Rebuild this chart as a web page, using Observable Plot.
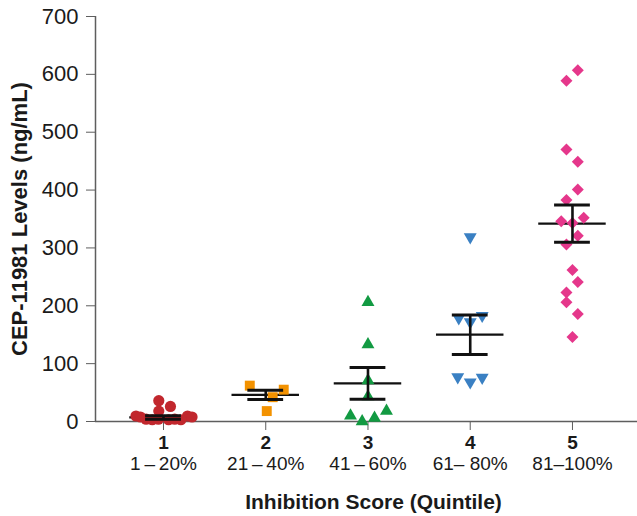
<!DOCTYPE html>
<html>
<head>
<meta charset="utf-8">
<script src="https://cdn.jsdelivr.net/npm/d3@7"></script>
<script src="https://cdn.jsdelivr.net/npm/@observablehq/plot@0.6"></script>
<style>
  html, body { margin: 0; padding: 0; background: #fff; }
  #chart svg { display: block; }
</style>
</head>
<body>
<div id="chart"></div>
<script>
// ---------- data ----------
const groups = [1, 2, 3, 4, 5];
const rangeLabels = ["1\u2009–\u200920%", "21\u2009–\u200940%", "41\u2009–\u200960%", "61– 80%", "81–100%"];
const yTicks = [0, 100, 200, 300, 400, 500, 600, 700];
const yTitle = "CEP-11981 Levels (ng/mL)";
const xTitle = "Inhibition Score (Quintile)";

// quintile 1 (circles)
const q1Values = [36, 18, 26, 9.5, 7.8, 9.5, 7.8, 4, 3, 4, 3, 4, 3];
const q1Jitter = [-0.046, -0.046, 0.068, -0.269, -0.225, 0.235, 0.279, -0.17, -0.11, -0.05, 0.05, 0.11, 0.17];
// quintile 2 (squares)
const q2Values = [62, 55, 42, 18];
const q2Jitter = [-0.156, 0.176, 0.068, 0.01];
// quintile 3 (triangles)
const q3Values = [206, 133, 71, 43, 10, 0, 6, 18];
const q3Jitter = [0, 0, 0, 0, -0.171, -0.057, 0.064, 0.181];
// quintile 4 (down triangles)
const q4Values = [319, 179, 172, 183, 77, 68, 76];
const q4Jitter = [0, -0.112, 0, 0.117, -0.122, 0, 0.117];
// quintile 5 (diamonds)
const q5Values = [607, 589, 470, 449, 401, 383, 352, 346, 343, 321, 306, 262, 241, 223, 206, 186, 146];
const q5Jitter = [0.052, -0.059, -0.059, 0.052, 0.052, -0.059, 0.11, -0.11, 0, 0.052, -0.059, 0, 0.052, -0.059, -0.059, 0.052, 0];

// mean and SEM per quintile
const groupMeans = [7, 46, 66, 150, 342];
const groupSEMs = [3, 8, 27.5, 34, 32];

// ---------- presentation ----------
const allValues = [q1Values, q2Values, q3Values, q4Values, q5Values];
const allJitter = [q1Jitter, q2Jitter, q3Jitter, q4Jitter, q5Jitter];
const markStyles = [
  {symbol: "circle",   fill: "#c1272d", r: 5.6, rotate: 0},
  {symbol: "square",   fill: "#f39200", r: 5.6, rotate: 0},
  {symbol: "triangle", fill: "#129a42", r: 4.8, rotate: 0},
  {symbol: "triangle", fill: "#3a80c3", r: 4.8, rotate: 180},
  {symbol: "diamond2", fill: "#e5378b", r: 5.4, rotate: 0}
];
const axisGray = "#5e5e5e";
const xDomain = [0.335, 5.636];

const pointsByGroup = groups.map((g, i) =>
  allValues[i].map((v, j) => ({g, v, x: g + allJitter[i][j]}))
);
const stats = groups.map((g, i) => ({g, mean: groupMeans[i], sem: groupSEMs[i]}));
const caps = stats.flatMap(d => [{g: d.g, y: d.mean - d.sem}, {g: d.g, y: d.mean + d.sem}]);
const subLabels = groups.map((g, i) => ({g, label: rangeLabels[i]}));

const chart = Plot.plot({
  width: 637,
  height: 516,
  marginLeft: 95,
  marginRight: 0,
  marginTop: 16,
  marginBottom: 95,
  style: {fontFamily: "'Liberation Sans', Arial, Helvetica, sans-serif", background: "#fff", color: "#1a1a1a"},
  x: {domain: xDomain},
  y: {domain: [0, 700]},
  marks: [
    Plot.ruleX([xDomain[0]], {y1: 0, y2: 700, stroke: axisGray, strokeWidth: 1.5}),
    Plot.ruleY([0], {stroke: axisGray, strokeWidth: 1.5}),
    Plot.axisY({ticks: yTicks, tickSize: 9, tickPadding: 8, fontSize: 22, label: null,
                stroke: axisGray, fill: "#1a1a1a", tickFormat: d3.format("d")}),
    Plot.axisX({ticks: groups, tickSize: 9, tickPadding: 5, fontSize: 19, fontWeight: "bold",
                label: null, stroke: axisGray, fill: "#1a1a1a", tickFormat: d3.format("d")}),
    Plot.text(subLabels, {x: "g", frameAnchor: "bottom", text: "label", dy: 42,
                          lineAnchor: "middle", fontSize: 19, fill: "#1a1a1a"}),
    Plot.text([xTitle], {frameAnchor: "bottom", dx: 7, dy: 81, lineAnchor: "middle",
                         fontSize: 21, fontWeight: "bold", fill: "#1a1a1a"}),
    Plot.text([yTitle], {frameAnchor: "left", textAnchor: "middle", rotate: -90, dx: -76, dy: 0,
                         lineAnchor: "middle", fontSize: 22, fontWeight: "bold", fill: "#1a1a1a"}),
    // mean lines
    Plot.ruleY(stats, {y: "mean", x1: d => d.g - 0.33, x2: d => d.g + 0.33, stroke: "#111", strokeWidth: 2.2}),
    // points
    ...pointsByGroup.map((pts, i) =>
      Plot.dot(pts, {x: "x", y: "v", symbol: markStyles[i].symbol, r: markStyles[i].r,
                     fill: markStyles[i].fill, rotate: markStyles[i].rotate, stroke: "none"})
    ),
    // SEM bars
    Plot.ruleX(stats, {x: "g", y1: d => d.mean - d.sem, y2: d => d.mean + d.sem, stroke: "#111", strokeWidth: 2.6}),
    Plot.ruleY(caps, {y: "y", x1: d => d.g - 0.175, x2: d => d.g + 0.175, stroke: "#111", strokeWidth: 3})
  ]
});
document.getElementById("chart").appendChild(chart);
</script>
</body>
</html>
